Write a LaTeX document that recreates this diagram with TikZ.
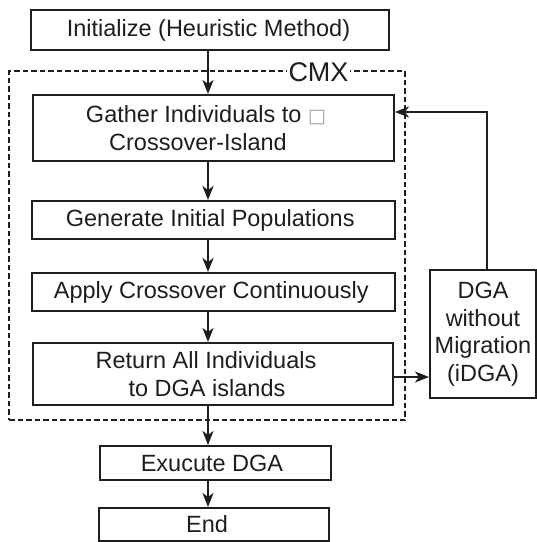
\documentclass[tikz,border=0pt]{standalone}
\usepackage{fontspec}
\setmainfont{Liberation Sans}
\newfontfamily\symfont{DejaVu Sans}
\usetikzlibrary{arrows.meta}
\definecolor{ink}{HTML}{1E1E1E}
\begin{document}
\begin{tikzpicture}[x=1pt,y=-1pt,
  box/.style={draw=ink,line width=2pt,rectangle,inner sep=0pt,align=center,
    text=ink,font=\fontsize{23.5}{28.5}\selectfont},
  arr/.style={draw=ink,line width=2.3pt,-{Stealth[length=14pt,width=11pt,inset=4pt]}},
  thinarr/.style={draw=ink,line width=1.7pt,-{Stealth[length=14pt,width=11pt,inset=4pt]}},
  cmxbox/.style={draw=ink,line width=1.5pt,dash pattern=on 5.5pt off 3pt,rectangle,inner sep=0pt}
]
\useasboundingbox (0,0) rectangle (537,542);
\node[cmxbox,minimum width=396pt,minimum height=349pt] (cmx) at (207,245.5) {};
\node[fill=white,inner xsep=1.5pt,inner ysep=0pt,text=ink,font=\fontsize{27}{30}\selectfont] (cmxlabel) at (318.5,72) {CMX};
\node[box,minimum width=358pt,minimum height=40pt] (init) at (210,30) {Initialize (Heuristic Method)\kern3pt};
\node[box,minimum width=361pt,minimum height=66pt] (gather) at (213.5,128) {Gather Individuals to {\symfont\color{gray!75}\fontsize{19}{19}\selectfont □}\kern15pt\\Crossover-Island\kern31pt};
\node[box,minimum width=363pt,minimum height=38pt] (gen) at (213.75,220) {Generate Initial Populations\kern7pt};
\node[box,minimum width=363pt,minimum height=38pt] (apply) at (213.75,292) {Apply Crossover Continuously\kern5pt};
\node[box,minimum width=360pt,minimum height=62pt] (ret) at (213,374) {Return All Individuals\kern14pt\\to DGA islands\kern12pt};
\node[box,minimum width=231pt,minimum height=34pt] (exec) at (215.5,463) {Exucute DGA\kern7pt};
\node[box,minimum width=230pt,minimum height=33pt] (end) at (214,524.5) {End\kern14pt};
\node[box,minimum width=106pt,minimum height=128pt,font=\fontsize{23.5}{27.5}\selectfont] (dga) at (483,334) {DGA\\without\\Migration\\(iDGA)};
\coordinate (col) at (208,0);
\coordinate (fb) at (487,112);
\coordinate (ry) at (0,377);
\draw[arr] (init.south -| col) -- (gather.north -| col);
\draw[arr] (gather.south -| col) -- (gen.north -| col);
\draw[arr] (gen.south -| col) -- (apply.north -| col);
\draw[arr] (apply.south -| col) -- (ret.north -| col);
\draw[arr] (ret.south -| col) -- (exec.north -| col);
\draw[arr] (exec.south -| col) -- (end.north -| col);
\draw[thinarr] (ret.east |- ry) -- (dga.west |- ry);
\draw[thinarr] (dga.north -| fb) -- (fb) -- (gather.east |- fb);
\end{tikzpicture}
\end{document}
